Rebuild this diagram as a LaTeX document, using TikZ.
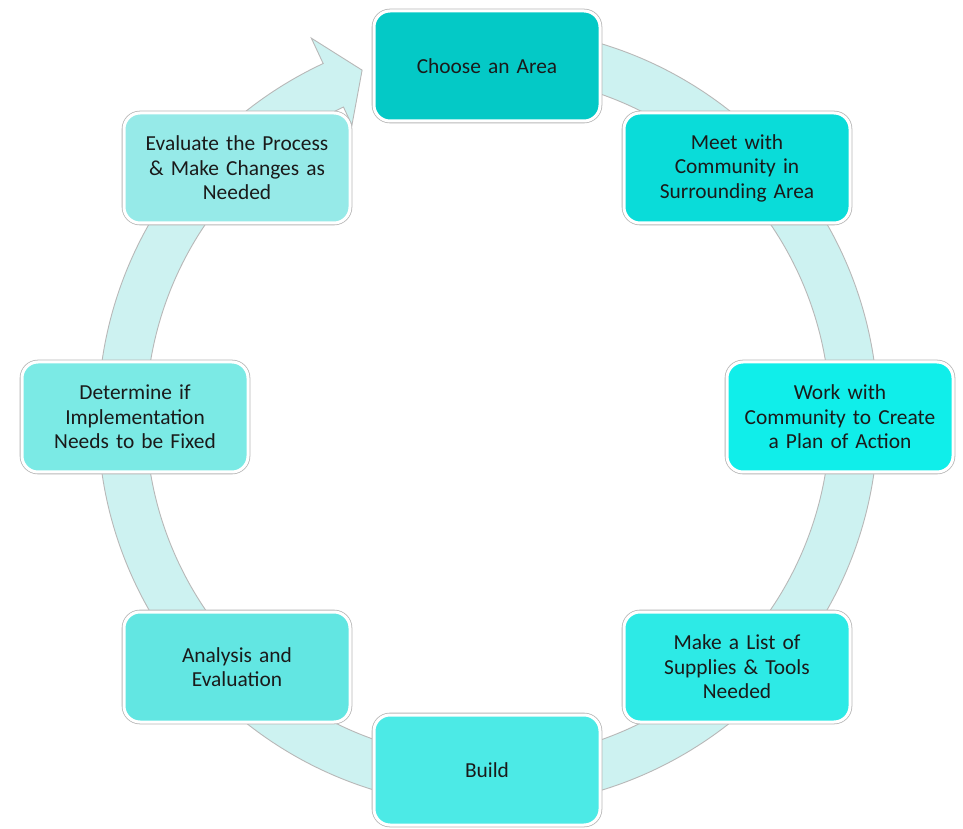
\documentclass[tikz,border=0pt]{standalone}
\usepackage{fontspec}
\setmainfont{Carlito}
\definecolor{ringfill}{HTML}{CDF2F1}
\definecolor{ringline}{HTML}{B8B8B8}
\definecolor{txt}{HTML}{1A1A1A}
\definecolor{cA}{HTML}{04C9C6}
\definecolor{cB}{HTML}{0ADCD9}
\definecolor{cC}{HTML}{10EEEA}
\definecolor{cD}{HTML}{2DEAE6}
\definecolor{cE}{HTML}{4CEAE6}
\definecolor{cF}{HTML}{62E6E2}
\definecolor{cG}{HTML}{7BEAE5}
\definecolor{cH}{HTML}{96EAE8}
\tikzset{
  stepbox/.style={rectangle, rounded corners=16pt, minimum width=226pt, minimum height=110pt,
    text width=210pt, align=center, text=txt, draw=white, line width=3pt,
    preaction={draw=ringline, line width=4.6pt},
    font=\fontsize{21.4}{24.5}\selectfont},
  ring/.style={fill=ringfill, draw=ringline, line width=0.9pt, line join=miter}
}
\begin{document}
\begin{tikzpicture}[x=1pt,y=1pt]
\useasboundingbox (0,0) rectangle (963,828);
\fill[white] (0,0) rectangle (963,828);
\draw[ring, shift={(488pt,411pt)}] (85:390pt) arc[start angle=85, end angle=-245, radius=390pt]
  -- (-245:418pt) -- (-250.05:369pt) -- (-245:322pt) -- (-245:342pt)
  arc[start angle=-245, end angle=85, radius=342pt] -- cycle;
\node[stepbox, fill=cA] (choose) at (487,762) {Choose an Area};
\node[stepbox, fill=cB] (meet) at (737,660) {Meet with\\Community in\\Surrounding Area};
\node[stepbox, fill=cC] (work) at (840,411) {Work with\\Community to Create\\a Plan of Action};
\node[stepbox, fill=cD] (list) at (737,161) {Make a List of\\Supplies \& Tools\\Needed};
\node[stepbox, fill=cE] (build) at (487,58) {Build};
\node[stepbox, fill=cF] (analysis) at (237,161) {Analysis and\\Evaluation};
\node[stepbox, fill=cG] (determine) at (135,411) {Determine if\\Implementation\\Needs to be Fixed};
\node[stepbox, fill=cH] (evaluate) at (237,660) {Evaluate the Process\\\& Make Changes as\\Needed};
\end{tikzpicture}
\end{document}
